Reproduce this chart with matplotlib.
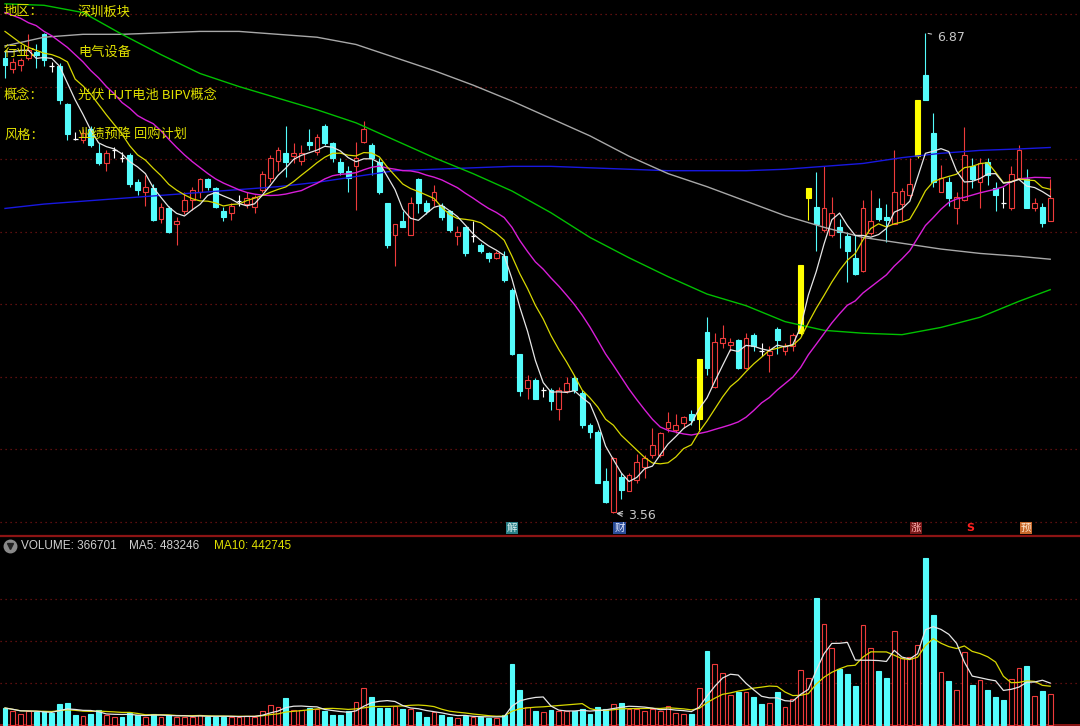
import numpy as np
import pandas as pd
import matplotlib
matplotlib.use("Agg")
import matplotlib.pyplot as plt

plt.rcParams['font.family'] = ['Noto Sans CJK SC', 'DejaVu Sans']

# daily candles
open_ = [6.70, 6.62, 6.65, 6.70, 6.74, 6.86, 6.64, 6.64, 6.38, 6.14,
         6.13, 6.21, 6.04, 5.97, 6.06, 6.01, 6.03, 5.84, 5.77, 5.80,
         5.59, 5.66, 5.55, 5.64, 5.72, 5.77, 5.86, 5.80, 5.64, 5.63,
         5.71, 5.69, 5.67, 5.79, 5.87, 5.99, 6.04, 6.02, 5.99, 6.12,
         6.05, 6.23, 6.11, 5.98, 5.92, 5.95, 6.12, 6.10, 5.98, 5.70,
         5.48, 5.57, 5.48, 5.86, 5.70, 5.72, 5.68, 5.64, 5.47, 5.53,
         5.47, 5.41, 5.35, 5.32, 5.33, 5.10, 4.66, 4.42, 4.48, 4.41,
         4.41, 4.28, 4.40, 4.49, 4.39, 4.17, 4.12, 3.78, 3.57, 3.81,
         3.71, 3.79, 3.88, 3.96, 3.96, 4.15, 4.13, 4.18, 4.24, 4.21,
         4.81, 4.43, 4.73, 4.72, 4.75, 4.56, 4.79, 4.68, 4.65, 4.83,
         4.68, 4.71, 4.80, 5.73, 5.67, 5.51, 5.48, 5.53, 5.47, 5.32,
         5.23, 5.49, 5.66, 5.60, 5.55, 5.69, 5.75, 6.02, 6.58, 6.18,
         5.77, 5.84, 5.66, 5.72, 5.95, 5.84, 5.98, 5.80, 5.70, 5.66,
         5.87, 5.86, 5.66, 5.67, 5.57]
high = [6.75, 6.70, 6.70, 6.86, 6.79, 6.87, 6.67, 6.66, 6.39, 6.19,
        6.21, 6.23, 6.11, 6.06, 6.08, 6.05, 6.04, 5.86, 5.89, 5.83,
        5.70, 5.68, 5.60, 5.77, 5.81, 5.87, 5.87, 5.81, 5.67, 5.70,
        5.75, 5.77, 5.75, 5.92, 6.03, 6.08, 6.23, 6.11, 6.10, 6.21,
        6.17, 6.24, 6.12, 6.01, 5.95, 6.12, 6.26, 6.11, 6.01, 5.70,
        5.55, 5.64, 5.74, 5.87, 5.72, 5.82, 5.70, 5.65, 5.54, 5.53,
        5.57, 5.42, 5.36, 5.37, 5.37, 5.11, 4.66, 4.51, 4.49, 4.43,
        4.42, 4.43, 4.50, 4.51, 4.41, 4.18, 4.13, 3.87, 3.95, 3.84,
        3.84, 3.97, 3.96, 4.15, 4.12, 4.26, 4.24, 4.23, 4.27, 4.62,
        4.91, 4.80, 4.86, 4.77, 4.76, 4.80, 4.80, 4.73, 4.71, 4.84,
        4.73, 4.80, 5.27, 5.80, 5.91, 5.95, 5.74, 5.59, 5.50, 5.48,
        5.72, 5.79, 5.73, 5.69, 6.06, 5.80, 6.01, 6.41, 6.87, 6.32,
        5.96, 5.88, 5.77, 6.22, 6.01, 6.01, 6.01, 5.84, 5.81, 5.95,
        6.10, 5.93, 5.73, 5.70, 5.86]
low = [6.56, 6.59, 6.61, 6.68, 6.63, 6.64, 6.60, 6.38, 6.13, 6.13,
       6.11, 6.08, 5.96, 5.92, 6.01, 5.98, 5.81, 5.75, 5.68, 5.57,
       5.56, 5.49, 5.41, 5.62, 5.65, 5.73, 5.79, 5.66, 5.57, 5.58,
       5.68, 5.66, 5.63, 5.77, 5.84, 5.92, 5.88, 5.97, 5.96, 6.06,
       6.03, 6.10, 5.98, 5.89, 5.77, 5.65, 6.11, 5.89, 5.76, 5.39,
       5.26, 5.53, 5.48, 5.63, 5.62, 5.68, 5.58, 5.50, 5.41, 5.33,
       5.43, 5.35, 5.29, 5.31, 5.15, 4.65, 4.37, 4.35, 4.35, 4.36,
       4.27, 4.20, 4.39, 4.39, 4.15, 4.08, 3.77, 3.63, 3.56, 3.66,
       3.71, 3.77, 3.80, 3.94, 3.95, 4.12, 4.11, 4.15, 4.17, 4.13,
       4.51, 4.42, 4.70, 4.68, 4.55, 4.55, 4.68, 4.64, 4.53, 4.66,
       4.65, 4.68, 4.79, 5.58, 5.37, 5.50, 5.46, 5.39, 5.15, 5.20,
       5.22, 5.48, 5.57, 5.43, 5.55, 5.57, 5.73, 6.01, 6.41, 5.81,
       5.77, 5.68, 5.55, 5.71, 5.80, 5.66, 5.82, 5.64, 5.66, 5.65,
       5.86, 5.66, 5.64, 5.53, 5.57]
close = [6.65, 6.67, 6.68, 6.75, 6.72, 6.68, 6.64, 6.41, 6.17, 6.14,
         6.18, 6.10, 5.97, 6.04, 6.06, 6.01, 5.83, 5.79, 5.81, 5.58,
         5.67, 5.50, 5.57, 5.72, 5.79, 5.86, 5.81, 5.67, 5.60, 5.68,
         5.71, 5.73, 5.74, 5.90, 6.01, 6.06, 5.98, 6.04, 6.04, 6.10,
         6.15, 6.11, 6.01, 5.91, 5.87, 6.01, 6.21, 6.01, 5.77, 5.41,
         5.55, 5.53, 5.70, 5.70, 5.64, 5.77, 5.60, 5.51, 5.50, 5.35,
         5.47, 5.37, 5.32, 5.35, 5.17, 4.66, 4.40, 4.48, 4.35, 4.41,
         4.33, 4.41, 4.46, 4.41, 4.17, 4.12, 3.77, 3.64, 3.94, 3.72,
         3.82, 3.91, 3.94, 4.03, 4.11, 4.19, 4.17, 4.22, 4.20, 4.62,
         4.56, 4.74, 4.77, 4.74, 4.56, 4.77, 4.71, 4.68, 4.68, 4.75,
         4.71, 4.79, 5.27, 5.80, 5.55, 5.66, 5.63, 5.50, 5.37, 5.21,
         5.66, 5.57, 5.59, 5.58, 5.77, 5.78, 5.83, 6.41, 6.41, 5.84,
         5.87, 5.73, 5.74, 6.03, 5.86, 5.97, 5.89, 5.75, 5.70, 5.90,
         6.06, 5.66, 5.70, 5.56, 5.73]
volume = [197000, 165000, 128000, 156000, 148000, 156000, 136000, 239000, 251000, 115000,
          103000, 128000, 168000, 115000, 94000, 94000, 136000, 115000, 94000, 123000,
          94000, 115000, 94000, 94000, 94000, 115000, 94000, 94000, 94000, 94000,
          94000, 107000, 94000, 165000, 230000, 205000, 313000, 177000, 177000, 197000,
          188000, 156000, 115000, 115000, 156000, 271000, 432000, 328000, 197000, 197000,
          218000, 188000, 188000, 148000, 94000, 148000, 115000, 94000, 82000, 103000,
          94000, 94000, 82000, 82000, 115000, 719000, 410000, 205000, 165000, 144000,
          177000, 165000, 156000, 165000, 185000, 128000, 205000, 188000, 247000, 259000,
          188000, 188000, 156000, 185000, 165000, 218000, 136000, 123000, 128000, 432000,
          874000, 723000, 617000, 353000, 382000, 382000, 328000, 239000, 259000, 382000,
          210000, 299000, 649000, 555000, 1512000, 1204000, 916000, 657000, 608000, 460000,
          1192000, 916000, 637000, 555000, 1121000, 793000, 805000, 948000, 1984000, 1306000,
          629000, 513000, 410000, 863000, 472000, 534000, 410000, 328000, 288000, 538000,
          669000, 698000, 341000, 395000, 366701]
limit_up = [89, 102, 103, 117]

# start of the short averages (window reaches before the first candle)
ma5_head = [6.74, 6.74, 6.75, 6.75]
ma10_head = [6.88, 6.84, 6.80, 6.77, 6.75, 6.73, 6.72, 6.70, 6.67]
ma20_head = [7.01, 6.99, 6.97, 6.94, 6.92, 6.88, 6.85, 6.81, 6.77, 6.72,
             6.67, 6.61, 6.56, 6.50, 6.45, 6.39, 6.35, 6.30, 6.27]

# long averages, read every 5 candles
long_idx = [0, 5, 10, 15, 20, 25, 30, 35, 40, 45, 50, 55, 60, 65, 70,
            75, 80, 85, 90, 95, 100, 105, 110, 115, 120, 125, 130, 134]
ma60 = [7.07, 7.06, 7.01, 6.86, 6.72, 6.59, 6.50, 6.42, 6.34, 6.25, 6.13, 6.01, 5.90, 5.78,
        5.63, 5.46, 5.32, 5.19, 5.07, 4.99, 4.88, 4.82, 4.80, 4.79, 4.84, 4.91, 5.02, 5.10]
ma120 = [6.78, 6.84, 6.86, 6.86, 6.87, 6.88, 6.88, 6.86, 6.84, 6.79, 6.70, 6.61, 6.51, 6.40,
         6.28, 6.16, 6.02, 5.90, 5.81, 5.71, 5.61, 5.53, 5.46, 5.42, 5.38, 5.35, 5.33, 5.31]
ma250 = [5.66, 5.69, 5.71, 5.73, 5.75, 5.77, 5.79, 5.81, 5.84, 5.88, 5.92, 5.93, 5.94, 5.95,
         5.95, 5.94, 5.93, 5.92, 5.92, 5.92, 5.93, 5.95, 5.97, 6.01, 6.04, 6.06, 6.07, 6.08]

n = len(close)
xs = np.arange(n)
c = pd.Series(close)
ma5 = c.rolling(5).mean().values
ma5[:len(ma5_head)] = ma5_head
ma10 = c.rolling(10).mean().values
ma10[:len(ma10_head)] = ma10_head
ma20 = c.rolling(20).mean().values
ma20[:len(ma20_head)] = ma20_head
v = pd.Series(volume)
vma5 = v.rolling(5, min_periods=1).mean().values
vma10 = v.rolling(10, min_periods=1).mean().values

RED = '#ee3b3b'
CYAN = '#54fcfc'
YEL = '#ffff00'
GRID = '#7a1414'

fig = plt.figure(figsize=(10.8, 7.26), dpi=100, facecolor='black')
ax = fig.add_axes([0, 190 / 726, 1, 536 / 726], facecolor='black')
axv = fig.add_axes([0, 0, 1, 190 / 726], facecolor='black')
for a in (ax, axv):
    a.set_xlim(-5 / 7.8, 1075 / 7.8)
    a.set_xticks([])
    a.set_yticks([])
    for s in a.spines.values():
        s.set_visible(False)
ax.set_ylim(7 - 522 / 145.1, 7 + 14 / 145.1)
axv.set_ylim(-1.5 * 11930, 188.5 * 11930)

for p in np.arange(3.5, 7.01, 0.5):
    ax.axhline(p, color=GRID, lw=0.9, ls=(0, (1, 3)), zorder=1)
for q in [500000, 1000000, 1500000]:
    axv.axhline(q, color=GRID, lw=0.9, ls=(0, (1, 3)), zorder=1)
axv.plot([0, 1], [1, 1], transform=axv.transAxes, color='#8c1414', lw=1.6, clip_on=False)
axv.plot([0, 1], [0.003, 0.003], transform=axv.transAxes, color='#8c1414', lw=1.4)

w = 0.64
for i in range(n):
    o, h, l, cl = open_[i], high[i], low[i], close[i]
    if i in limit_up:
        col, fill = YEL, YEL
    elif cl > o:
        col, fill = RED, 'black'
    elif cl < o:
        col, fill = CYAN, CYAN
    else:
        col, fill = 'white', 'white'
    ax.vlines(i, l, h, color=col, lw=0.8, zorder=2)
    if cl == o:
        ax.hlines(cl, i - w / 2, i + w / 2, color=col, lw=0.9, zorder=3)
    else:
        ax.bar(i, abs(cl - o), bottom=min(o, cl), width=w, facecolor=fill,
               edgecolor=col, linewidth=0.8, zorder=3)
    # volume bar colour
    up = cl > o or (cl == o and i > 0 and cl >= close[i - 1])
    if up:
        axv.bar(i, volume[i], width=w, facecolor='black', edgecolor=RED, linewidth=0.8, zorder=2)
    else:
        axv.bar(i, volume[i], width=w, facecolor=CYAN, edgecolor=CYAN, linewidth=0.8, zorder=2)

# moving averages
ax.plot(long_idx, ma250, color='#1818e0', lw=1.0, zorder=4)
ax.plot(long_idx, ma120, color='#a8a8a8', lw=1.0, zorder=4)
ax.plot(long_idx, ma60, color='#00c000', lw=1.0, zorder=4)
ax.plot(xs, ma20, color='#d81ed8', lw=1.0, zorder=4)
ax.plot(xs, ma10, color='#d8d800', lw=0.9, zorder=4)
ax.plot(xs, ma5, color='#e6e6e6', lw=0.9, zorder=4)
axv.plot(xs, vma10, color='#d8d800', lw=0.9, zorder=3)
axv.plot(xs, vma5, color='#e6e6e6', lw=0.9, zorder=3)

# high / low marks
ax.annotate('6.87', xy=(118, 6.87), xytext=(119.5, 6.835), color='#c8c8c8', fontsize=9,
            va='center', ha='left', family='DejaVu Sans',
            arrowprops=dict(arrowstyle='-', color='#c8c8c8', lw=0.8))
ax.annotate('3.56', xy=(78, 3.56), xytext=(79.9, 3.545), color='#c8c8c8', fontsize=9,
            va='center', ha='left', family='DejaVu Sans',
            arrowprops=dict(arrowstyle='->', color='#c8c8c8', lw=0.8))

# event markers
marks = [(65, '解', '#2a8088', '#d8f0f0'), (78.8, '财', '#2a4c98', '#e0e8ff'),
         (116.8, '涨', '#7a1818', '#ffb0b0'), (130.9, '预', '#c8682a', '#ffe8d0')]
for mx, txt, bg, fg in marks:
    ax.text(mx, 3.458, txt, color=fg, fontsize=7.5, ha='center', va='center', zorder=6,
            bbox=dict(boxstyle='square,pad=0.12', fc=bg, ec='none'))
ax.text(123.8, 3.458, 'S', color='#ff2020', fontsize=8, ha='center', va='center',
        fontweight='bold', family='DejaVu Sans')

# info labels top-left
TXT = '#e0e000'
def ftext(x, y, s, **kw):
    fig.text(x / 1080, 1 - y / 726, s, va='center', ha='left', **kw)

rows = [(12, '地区：', '深圳板块'), (52, '行业：', '电气设备'),
        (95, '概念：', '光伏 HJT电池 BIPV概念'), (135, '风格：', '业绩预降 回购计划')]
for y, k, val in rows:
    ftext(4, y, k, color=TXT, fontsize=9.5)
    ftext(78, y, val, color=TXT, fontsize=9.5)

# volume header
axv.plot([10], [0.95], marker='o', ms=9, color='#8a8a8a', transform=axv.transAxes, clip_on=False)
axv.plot([10], [0.95], marker='v', ms=4, color='#202020', transform=axv.transAxes, clip_on=False)
axv.lines[-2].set_xdata([10 / 1080])
axv.lines[-1].set_xdata([10 / 1080])
ftext(21, 546, 'VOLUME: 366701', color='#d0d0d0', fontsize=8.5, family='Liberation Sans')
ftext(129, 546, 'MA5: 483246', color='#d0d0d0', fontsize=8.5, family='Liberation Sans')
ftext(214, 546, 'MA10: 442745', color='#e0e000', fontsize=8.5, family='Liberation Sans')

fig.savefig('out.png', dpi=100, facecolor='black')
